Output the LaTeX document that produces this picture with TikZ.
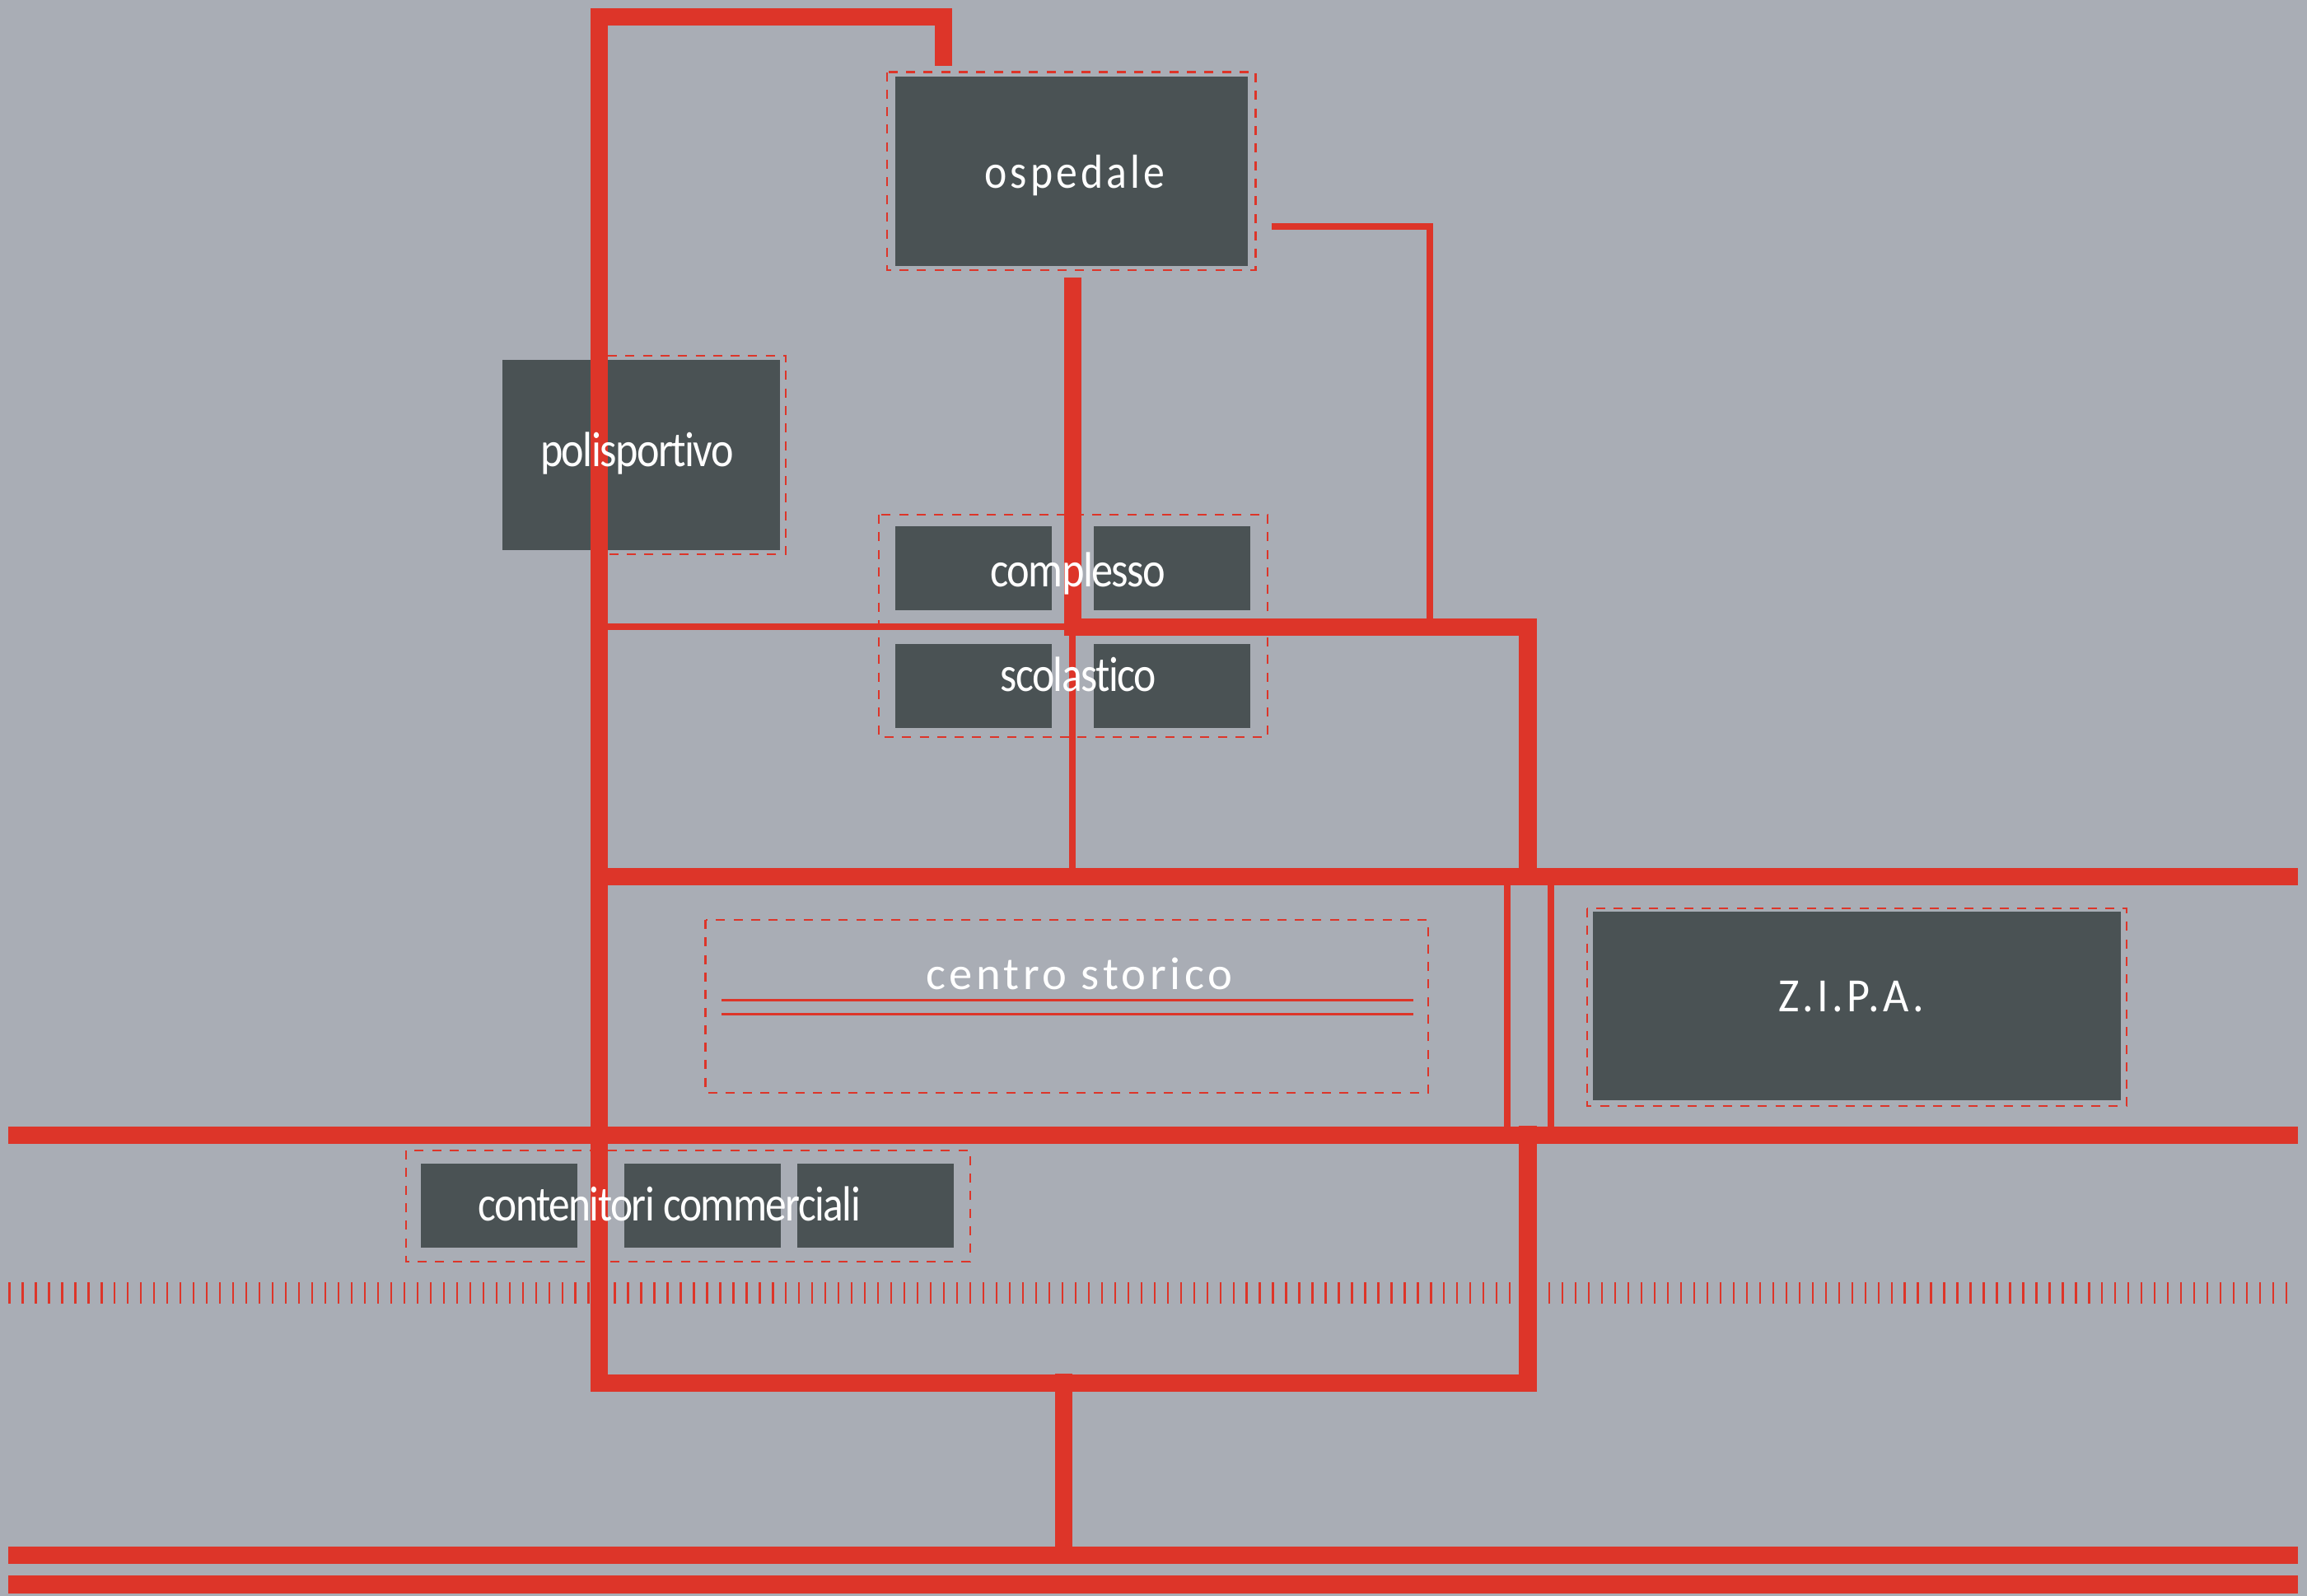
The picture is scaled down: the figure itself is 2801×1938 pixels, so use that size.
\documentclass[tikz,border=0pt]{standalone}
\usepackage{graphicx}
\usepackage{fontspec}
\setmainfont{Carlito}
\newfontfamily\tight[LetterSpace=-3,Ligatures=NoCommon]{Carlito}
\newfontfamily\wide[LetterSpace=8,Ligatures=NoCommon]{Carlito}
\newcommand{\fitw}[2]{\resizebox{#1pt}{\height}{#2}}
\definecolor{bgc}{HTML}{A9ADB5}
\definecolor{boxc}{HTML}{4A5254}
\definecolor{redc}{HTML}{DD3529}
\tikzset{
  x=1pt,y=-1pt,
  block/.style={fill=boxc,draw=none},
  road/.style={fill=redc,draw=none},
  frame/.style={draw=redc,line width=2.5pt,dash pattern=on 11pt off 10.3pt},
  ticks/.style={draw=redc,line width=2.3pt},
  thinred/.style={draw=redc,line width=2.7pt},
  lab/.style={text=white,inner sep=0pt,anchor=base},
}
\begin{document}
\begin{tikzpicture}
\useasboundingbox (0,0) rectangle (2801,1938);
\fill[bgc] (0,0) rectangle (2801,1938);
% dashed frames
\draw[frame] (1077,87.5) rectangle (1524.5,328);
\draw[frame] (738,432) -- (954,432) -- (954,673) -- (738,673);
\draw[frame] (1067,625) rectangle (1539,895);
\draw[frame] (856.5,1117) rectangle (1734,1327);
\draw[frame] (1927,1103) rectangle (2582,1343);
\draw[frame] (493,1397) rectangle (1178,1532);
% blocks
\fill[block] (1087,93) rectangle (1515,323);
\fill[block] (610,437) rectangle (947,668);
\fill[block] (1087,639) rectangle (1277,741);
\fill[block] (1328,639) rectangle (1518,741);
\fill[block] (1087,782) rectangle (1277,884);
\fill[block] (1328,782) rectangle (1518,884);
\fill[block] (1934,1107) rectangle (2575,1336);
\fill[block] (511,1413) rectangle (701,1515);
\fill[block] (758,1413) rectangle (948,1515);
\fill[block] (968,1413) rectangle (1158,1515);
% ticks
\foreach \i in {0,...,173} \draw[ticks] ({11.5+\i*15.98},1557) -- ({11.5+\i*15.98},1583);
% centro storico lines
\draw[thinred] (876,1214.5) -- (1716,1214.5);
\draw[thinred] (876,1231.5) -- (1716,1231.5);
% roads
\fill[road] (717,10) rectangle (738,1690);
\fill[road] (717,10) rectangle (1156,31);
\fill[road] (1135,10) rectangle (1156,80);
\fill[road] (1291.5,337) rectangle (1312.5,772);
\fill[road] (1292,751) rectangle (1866,772);
\fill[road] (1844,751) rectangle (1866,1075);
\fill[road] (1844,1367) rectangle (1866,1690);
\fill[road] (738,757) rectangle (1292,765);
\fill[road] (1298,772) rectangle (1306,1054);
\fill[road] (1544,271) rectangle (1740,279);
\fill[road] (1732,271) rectangle (1740,751);
\fill[road] (717,1054) rectangle (2790,1075);
\fill[road] (10,1367.5) rectangle (2790,1388.5);
\fill[road] (1826,1075) rectangle (1834,1367.5);
\fill[road] (1879,1075) rectangle (1887,1367.5);
\fill[road] (717,1668.7) rectangle (1866,1689.7);
\fill[road] (1281,1668) rectangle (1302,1899);
\fill[road] (10,1877.7) rectangle (2790,1898.7);
\fill[road] (10,1913.3) rectangle (2790,1935);
% labels
\node[lab] (ospedale) at (1305,228.5) {\fontsize{58}{58}\selectfont\fitw{219}{\wide ospedale}};
\node[lab] (polisportivo) at (773.5,566.5) {\fontsize{60}{60}\selectfont\fitw{235}{\tight polisportivo}};
\node[lab] (complesso) at (1309,712.5) {\fontsize{60}{60}\selectfont\fitw{213}{\tight complesso}};
\node[lab] (scolastico) at (1309,839.5) {\fontsize{60}{60}\selectfont\fitw{189}{\tight scolastico}};
\node[lab] (centro) at (1310,1201.5) {\fontsize{56}{56}\selectfont\fitw{372}{\wide centro storico}};
\node[lab] (zipa) at (2247.5,1228) {\fontsize{58}{58}\selectfont\fitw{177}{\wide Z.I.P.A.}};
\node[lab] (contenitori) at (813,1482.5) {\fontsize{60}{60}\selectfont\fitw{464}{\tight contenitori commerciali}};
\end{tikzpicture}
\end{document}
